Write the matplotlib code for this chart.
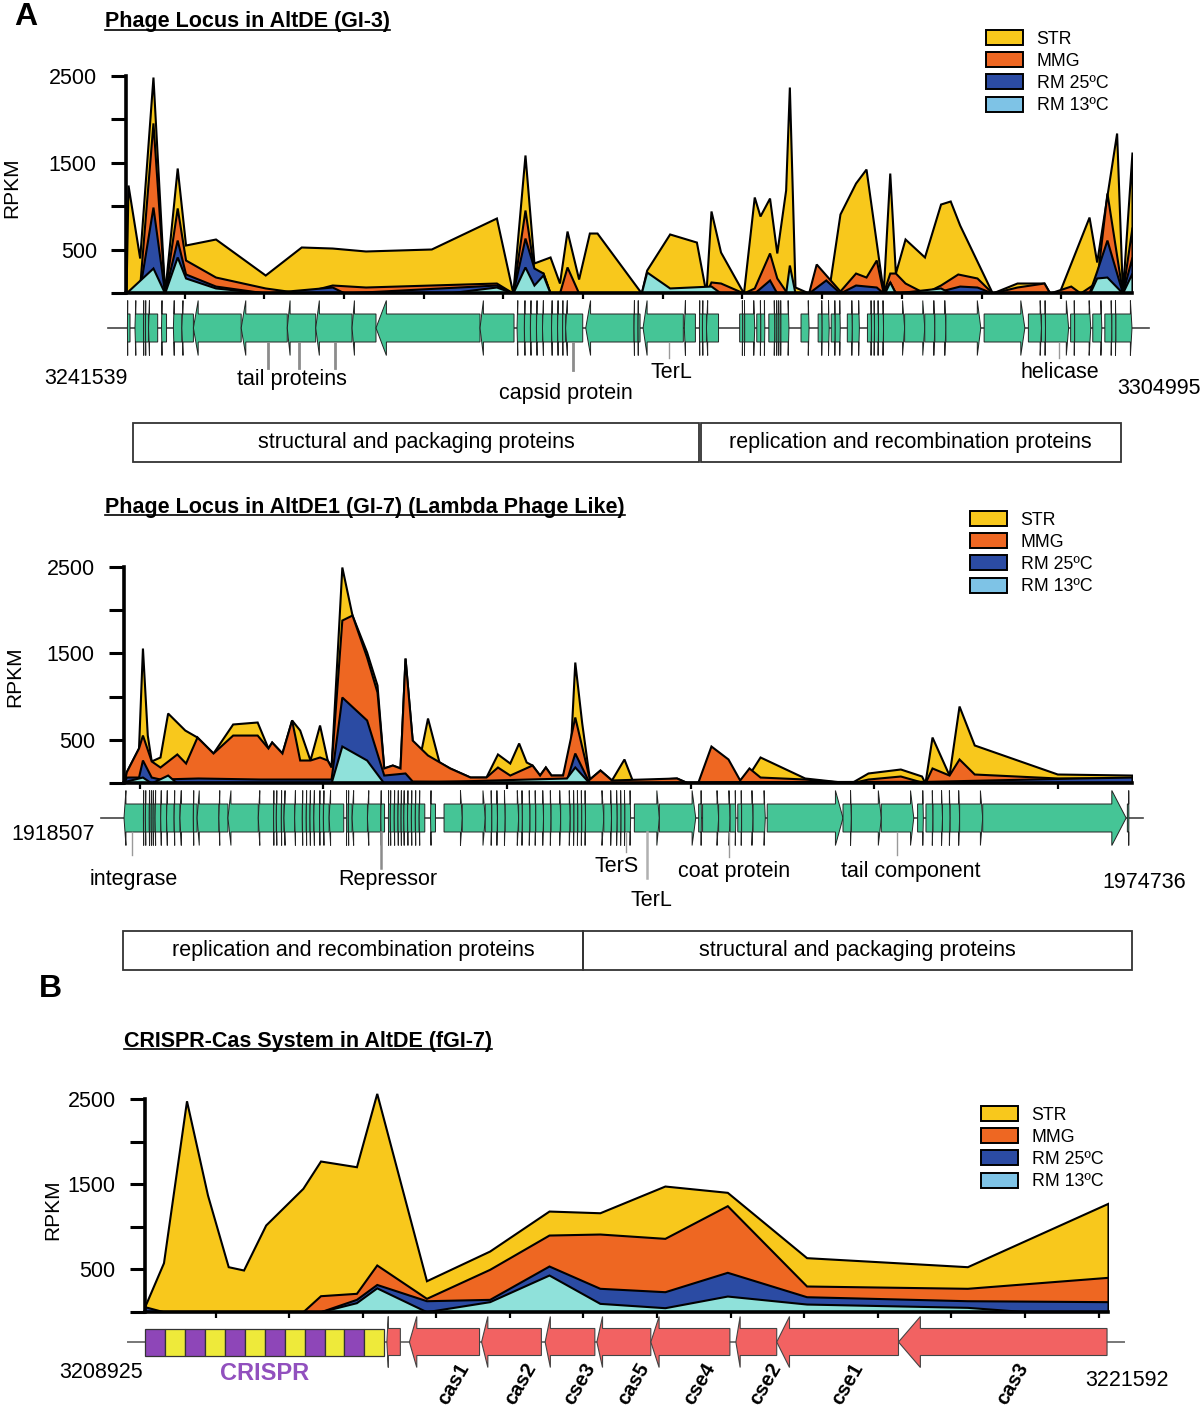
import numpy as np
import matplotlib
matplotlib.use('Agg')
import matplotlib.pyplot as plt
from matplotlib.patches import Polygon, Rectangle, Patch
from matplotlib.lines import Line2D

plt.rcParams['font.family'] = ['Liberation Sans', 'DejaVu Sans']

# colours
c_str, c_mmg, c_rm25, c_rm13 = '#F8C81C', '#EE6722', '#2B4BA3', '#8FE1DA'
c_rm13_leg = '#7EC3E6'
c_gene = '#45C596'
c_cas = '#F26262'
c_crispr = ['#8E46B8', '#EEEA3A']

series_names = ['STR', 'MMG', 'RM 25ºC', 'RM 13ºC']

# ---------------- data : x = position along locus (% of locus), y = RPKM
# Phage locus in AltDE (GI-3)
a1_str_x = [0, 0.2, 1.36, 2.68, 3.84, 5.09, 5.92, 8.90, 13.84, 17.42, 20.50, 23.81, 30.35, 36.82, 38.45,
            39.66, 40.55, 42.15, 43.09, 43.84, 44.99, 46.06, 46.82, 51.22, 51.76, 54.04, 56.70, 57.65, 58.15,
            59.10, 61.38, 62.45, 63.02, 63.97, 64.69, 65.57, 65.94, 66.50, 67.85, 69.83, 70.97, 72.52, 73.56,
            75.27, 75.92, 76.48, 77.44, 79.37, 80.97, 81.93, 82.87, 86.11, 88.57, 91.25, 91.82, 92.74, 95.73,
            96.49, 98.47, 99.05, 100]
a1_str_y = [0, 1244, 403, 2488, 0, 1440, 553, 622, 207, 530, 518, 484, 507, 864, 0,
            1590, 346, 415, 115, 714, 161, 691, 691, 0, 265, 680, 587, 0, 945,
            472, 0, 1106, 887, 1094, 461, 1187, 2373, 69, 0, 20, 910, 1267, 1428,
            10, 1382, 230, 622, 415, 1025, 1060, 783, 0, 115, 115, 0, 0, 875,
            357, 1843, 0, 1624]
a1_mmg_x = [0, 1.36, 2.68, 3.84, 5.09, 5.92, 8.90, 13.84, 17.42, 20.50, 23.81, 36.82, 38.45, 39.66, 40.55,
            41.45, 42.15, 43.09, 43.84, 44.99, 57.65, 58.15, 59.10, 61.38, 62.45, 63.97, 64.69, 65.57, 66.50,
            67.85, 68.61, 69.83, 70.97, 72.52, 73.56, 74.58, 75.27, 75.92, 76.48, 77.44, 79.37, 80.97, 82.68,
            84.59, 86.11, 88.57, 91.25, 91.82, 93.91, 94.86, 96.49, 97.51, 99.05, 100]
a1_mmg_y = [0, 80, 1960, 0, 980, 380, 184, 58, 0, 92, 69, 115, 0, 956, 265,
            230, 0, 0, 300, 0, 0, 127, 115, 0, 58, 461, 173, 23, 0,
            0, 334, 173, 23, 230, 184, 380, 0, 230, 230, 115, 0, 92, 219,
            173, 0, 69, 115, 0, 80, 0, 127, 1152, 0, 760]
a1_rm25_x = [0, 1.36, 2.68, 3.84, 5.09, 5.92, 8.90, 13.84, 20.50, 21.70, 36.82, 38.45, 39.66, 40.55, 41.45,
             42.15, 62.45, 63.97, 64.69, 67.85, 69.56, 70.97, 72.52, 74.58, 75.27, 75.92, 76.48, 80.97, 82.87,
             84.59, 86.11, 95.73, 96.49, 97.51, 99.05, 100]
a1_rm25_y = [0, 46, 990, 0, 610, 219, 80, 0, 69, 0, 92, 0, 633, 288, 230,
             0, 0, 150, 0, 0, 150, 0, 92, 69, 0, 127, 0, 23, 80,
             69, 0, 0, 253, 610, 0, 415]
a1_rm13_x = [0, 2.68, 3.84, 5.09, 5.92, 8.90, 13.84, 32.0, 36.82, 38.45, 39.66, 40.55, 41.45, 42.15, 51.22,
             51.76, 54.04, 58.15, 59.10, 65.57, 65.94, 66.50, 75.40, 75.92, 76.48, 80.97, 81.93, 95.80, 96.49,
             97.51, 99.05, 100]
a1_rm13_y = [0, 288, 0, 415, 173, 58, 0, 0, 69, 0, 300, 92, 207, 0, 0,
             242, 58, 80, 0, 0, 322, 0, 0, 127, 0, 58, 0, 0, 173,
             184, 0, 230]

# Phage locus in AltDE1 (GI-7)
a2_str_x = [0, 0.23, 1.44, 1.83, 2.31, 2.70, 3.57, 4.33, 6.03, 7.24, 8.83, 10.78, 13.21, 14.28, 14.65,
            15.67, 16.63, 17.43, 18.45, 19.40, 20.16, 20.54, 21.61, 22.62, 24.07, 25.10, 25.77, 26.62, 27.38,
            27.88, 28.59, 29.27, 30.11, 31.25, 32.31, 34.33, 35.91, 37.05, 38.27, 39.15, 39.90, 40.48, 41.23,
            41.80, 42.36, 43.51, 44.25, 44.72, 45.41, 46.17, 47.22, 48.36, 49.60, 50.45, 54.81, 55.95, 56.90,
            58.23, 61.08, 62.00, 63.10, 67.53, 72.09, 73.81, 77.02, 79.12, 79.46, 80.16, 81.85, 82.84, 84.35,
            92.59, 100]
a2_str_y = [0, 131, 405, 1562, 555, 255, 301, 810, 613, 532, 347, 683, 706, 405, 474,
            347, 729, 613, 266, 671, 266, 185, 2500, 1944, 1516, 1134, 174, 208, 174,
            1446, 497, 266, 752, 243, 174, 69, 69, 336, 231, 463, 243, 208, 92,
            185, 92, 92, 324, 1400, 694, 46, 150, 35, 278, 23, 58, 0, 0,
            50, 35, 100, 301, 58, 0, 116, 162, 81, 0, 532, 92, 891, 440,
            104, 92]
a2_mmg_x = [0, 0.23, 1.44, 1.83, 2.70, 3.57, 5.24, 6.11, 7.24, 8.83, 10.78, 13.21, 14.28, 14.65, 15.67,
            16.63, 17.43, 18.45, 19.40, 20.16, 20.54, 21.61, 22.62, 24.07, 25.10, 25.77, 26.62, 27.38, 27.88,
            28.59, 30.11, 32.31, 34.33, 35.91, 37.05, 38.27, 40.48, 41.23, 41.80, 42.36, 43.51, 44.72, 46.17,
            47.22, 48.36, 54.81, 55.95, 56.90, 58.23, 59.92, 61.08, 62.00, 63.10, 67.53, 72.09, 73.81, 77.02,
            79.46, 80.16, 81.85, 82.84, 84.35, 92.59, 100]
a2_mmg_y = [0, 131, 405, 555, 255, 185, 336, 231, 532, 347, 555, 555, 405, 474, 347,
            729, 266, 266, 301, 266, 185, 1886, 1944, 1458, 1053, 174, 208, 174, 1446,
            497, 324, 174, 69, 69, 185, 92, 208, 92, 185, 92, 92, 764, 46,
            150, 35, 58, 0, 0, 428, 278, 35, 174, 69, 46, 0, 46, 81,
            0, 174, 92, 278, 104, 58, 58]
a2_rm25_x = [0, 0.23, 1.44, 1.83, 2.70, 3.57, 7.34, 13.49, 20.54, 21.61, 24.07, 25.77, 27.88, 28.59, 35.0,
             43.89, 44.72, 46.17, 60.0, 80.0, 94.68, 100]
a2_rm25_y = [0, 69, 69, 266, 69, 46, 58, 46, 46, 995, 729, 92, 116, 23, 20,
             30, 347, 0, 15, 20, 58, 69]
a2_rm13_x = [0, 0.23, 1.83, 2.70, 4.33, 5.24, 20.54, 21.61, 24.07, 25.77, 43.89, 44.72, 46.17, 100]
a2_rm13_y = [0, 23, 69, 0, 92, 0, 0, 428, 266, 0, 58, 185, 0, 0]

# CRISPR-Cas system in AltDE (fGI-7)
b_str_x = [0, 1.95, 4.34, 6.52, 8.67, 10.26, 12.56, 16.42, 18.25, 21.98, 24.09, 29.25, 35.81, 41.97, 47.25,
           54.0, 60.48, 68.71, 85.40, 100]
b_str_y = [60, 576, 2479, 1371, 529, 490, 1019, 1450, 1771, 1704, 2566, 364, 713, 1183, 1163,
           1477, 1403, 635, 529, 1274]
b_mmg_x = [0, 16.42, 18.25, 21.98, 24.09, 29.25, 35.81, 41.97, 47.25, 54.0, 60.48, 68.71, 85.40, 100]
b_mmg_y = [0, 0, 188, 216, 549, 157, 498, 901, 913, 862, 1246, 302, 275, 404]
b_rm25_x = [0, 1.95, 18.25, 21.98, 24.09, 29.25, 35.81, 41.97, 47.25, 54.0, 60.48, 68.71, 85.40, 100]
b_rm25_y = [59, 0, 0, 145, 320, 129, 145, 537, 275, 235, 463, 176, 129, 118]
b_rm13_x = [0, 18.25, 21.98, 24.09, 29.25, 35.81, 41.97, 47.25, 54.0, 60.48, 68.71, 85.40, 91.5, 100]
b_rm13_y = [0, 0, 106, 280, 0, 118, 431, 98, 47, 184, 90, 51, 0, 0]

# genes: runs of adjacent gene boundaries (% of locus) and strand
a1_genes = [([0.14, 0.40], -1), ([0.89, 1.74, 1.93, 2.24, 3.15], -1), ([3.53, 4.03], -1),
            ([4.71, 5.55, 6.70, 11.45, 16.03, 18.86, 22.47, 24.85, 35.19, 38.57], -1),
            ([38.87, 39.6, 40.2, 40.8, 41.4, 42.3, 42.9, 43.4, 43.7, 45.4], -1),
            ([45.7, 50.5, 50.9, 51.1], -1), ([51.4, 55.4], -1), ([55.5, 56.6], -1),
            ([57.0, 57.3, 57.7, 58.9], -1),
            ([61.0, 61.3, 61.5, 62.5], 1), ([62.7, 63.1, 63.5], 1), ([63.9, 64.5, 64.7, 64.9, 65.1, 65.9], 1),
            ([67.1, 67.9], 1), ([68.8, 69.2, 69.9], 1), ([70.1, 70.5, 71.0], 1), ([71.7, 72.2, 72.9], 1),
            ([73.7, 74.1, 74.4, 74.8, 75.3, 77.4, 79.4, 80.4, 81.5, 84.97], 1), ([85.3, 89.35], 1),
            ([89.7, 91.0, 91.4, 93.7], 1), ([93.9, 94.3, 95.9], 1), ([96.1, 97.0], 1),
            ([97.3, 98.0, 98.4, 100.0], 1)]
a2_genes = [([0.0, 1.93, 2.12, 2.51, 2.70, 2.89, 3.08, 3.64, 4.22, 4.97, 5.55, 6.88, 7.25, 9.41, 10.31,
              13.32, 14.84, 15.11, 15.61, 15.87, 16.93, 17.69, 18.08, 18.45, 18.83, 19.40, 19.78, 20.35,
              21.80], -1),
            ([22.06, 22.25, 22.63, 24.15, 25.48, 25.85], -1),
            ([26.23, 26.42, 26.81, 27.18, 27.49, 27.76, 28.13, 28.51, 28.90, 29.28, 29.84], -1),
            ([30.41, 30.90], -1),
            ([31.75, 33.56, 35.84, 36.49, 37.05, 37.82, 39.15, 39.52, 40.28, 40.85, 41.62, 42.37, 43.32,
              44.27, 44.64, 45.02, 45.41, 45.78, 47.60, 48.36, 48.93, 49.31, 49.69, 50.26], 1),
            ([50.63, 53.11, 56.72], 1), ([57.01, 57.28], 1), ([57.40, 58.99, 60.13, 60.70], 1),
            ([60.89, 61.27, 62.41, 63.62], 1), ([63.81, 71.33, 72.16, 75.13, 78.35], 1),
            ([78.73, 79.30], 1), ([79.56, 80.26, 81.20, 81.96, 82.90, 85.19, 99.42], 1),
            ([99.54, 99.69], 1)]
b_gene_start = [25.14, 27.48, 34.97, 41.57, 46.94, 52.54, 61.37, 65.61, 78.25]
b_gene_end = [26.54, 34.76, 41.18, 46.73, 52.54, 60.75, 65.61, 78.25, 99.9]
b_gene_names = ['', 'cas1', 'cas2', 'cse3', 'cas5', 'cse4', 'cse2', 'cse1', 'cas3']
crispr_start, crispr_end, crispr_units = 0.07, 24.87, 12

W, H = 1200, 1407
fig = plt.figure(figsize=(W / 100., H / 100.), dpi=100)


def px_rect(l, t, r, b):
    return [l / W, 1 - b / H, (r - l) / W, (b - t) / H]


def make_chart(l, r, y0, y2500, series, xticks, leg_xy):
    top = y0 - 2650. * (y0 - y2500) / 2500.
    ax = fig.add_axes(px_rect(l, top, r, y0))
    ax.patch.set_visible(False)
    for (x, y), fc in zip(series, [c_str, c_mmg, c_rm25, c_rm13]):
        ax.fill_between(x, 0, y, facecolor=fc, edgecolor='k', lw=1.5, joinstyle='miter')
    ax.set_xlim(0, 100)
    ax.set_ylim(0, 2650)
    for s in ['top', 'right']:
        ax.spines[s].set_visible(False)
    ax.spines['left'].set_bounds(0, 2500)
    ax.spines['left'].set_linewidth(2.6)
    ax.spines['bottom'].set_linewidth(2.6)
    ax.set_yticks([0, 500, 1000, 1500, 2000, 2500])
    ax.set_yticklabels(['', '500', '', '1500', '', '2500'])
    ax.set_xticks(xticks)
    ax.tick_params(axis='y', length=11, width=2.2, pad=10, labelsize=15.5)
    ax.tick_params(axis='x', length=4, width=1.6, labelbottom=False)
    ax.set_ylabel('RPKM', fontsize=15, va='center')
    # legend
    handles = [Patch(facecolor=c, edgecolor='k', lw=1.4) for c in [c_str, c_mmg, c_rm25, c_rm13_leg]]
    ax.legend(handles, series_names, loc='upper left', bbox_to_anchor=(leg_xy[0] / W, 1 - leg_xy[1] / H),
              bbox_transform=fig.transFigure, frameon=False, fontsize=12.8, handlelength=2.1,
              handleheight=0.92, labelspacing=0.26, handletextpad=0.75, borderpad=0, borderaxespad=0)
    return ax


def make_overlay(l, r):
    ax = fig.add_axes([0, 0, 1, 1])
    s = (r - l) / 100.
    ax.set_xlim(-l / s, (W - l) / s)
    ax.set_ylim(H, 0)
    ax.set_axis_off()
    ax.patch.set_visible(False)
    return ax


def gene(ax, s, e, strand, yc, bh, hh, hl, fc, ec, lw=0.7):
    hl = min(hl, e - s)
    if strand > 0:
        xs = [s, e - hl, e - hl, e, e - hl, e - hl, s]
    else:
        xs = [e, s + hl, s + hl, s, s + hl, s + hl, e]
    ys = [yc - bh / 2, yc - bh / 2, yc - hh / 2, yc, yc + hh / 2, yc + bh / 2, yc + bh / 2]
    ax.add_patch(Polygon(list(zip(xs, ys)), closed=True, facecolor=fc, edgecolor=ec, lw=lw))


def gene_track(ax, blocks, yc, x0, x1):
    ax.plot([x0, x1], [yc, yc], color='#444444', lw=1.2, zorder=0)
    for bounds, strand in blocks:
        for s, e in zip(bounds[:-1], bounds[1:]):
            gene(ax, s, e, strand, yc, 28, 55, min(0.1 * (e - s), 1.5), c_gene, '#222222')


def leader(ax, x, y0, y1, lw=2.0, color='#8c8c8c'):
    ax.plot([x, x], [y0, y1], color=color, lw=lw)


def box(ax, x0, x1, y0, y1, label):
    ax.add_patch(Rectangle((x0, y0), x1 - x0, y1 - y0, fill=False, edgecolor='#333333', lw=1.3))
    ax.text((x0 + x1) / 2, (y0 + y1) / 2, label, ha='center', va='center', fontsize=15.5)


lab = dict(fontsize=15.5, ha='center', va='center')

# ---------------- panel A, GI-3
make_chart(126, 1132, 293, 76,
           [(a1_str_x, a1_str_y), (a1_mmg_x, a1_mmg_y), (a1_rm25_x, a1_rm25_y), (a1_rm13_x, a1_rm13_y)],
           np.arange(5.84, 100, 7.92), (986, 30)).yaxis.set_label_coords(-0.114, 0.46)
ov = make_overlay(126, 1132)
gene_track(ov, a1_genes, 328, -1.8, 101.7)
for x in [14.1, 17.2, 20.8]:
    leader(ov, x, 343, 368)
leader(ov, 44.4, 343, 370)
leader(ov, 54.0, 343, 358, lw=1.0, color='#9a9a9a')
leader(ov, 92.7, 343, 358, lw=1.0, color='#9a9a9a')
ov.text(16.5, 379, 'tail proteins', **lab)
ov.text(43.7, 393, 'capsid protein', **lab)
ov.text(54.2, 372, 'TerL', **lab)
ov.text(92.8, 372, 'helicase', **lab)
ov.text(0.2, 378, '3241539', fontsize=15.5, ha='right', va='center')
ov.text(98.5, 389, '3304995', fontsize=15.5, ha='left', va='center')
box(ov, 0.70, 56.93, 423, 462, 'structural and packaging proteins')
box(ov, 57.12, 98.86, 423, 462, 'replication and recombination proteins')

# ---------------- panel A, GI-7
make_chart(124, 1132, 783, 567,
           [(a2_str_x, a2_str_y), (a2_mmg_x, a2_mmg_y), (a2_rm25_x, a2_rm25_y), (a2_rm13_x, a2_rm13_y)],
           np.arange(1.56, 100, 18.22), (970, 511)).yaxis.set_label_coords(-0.108, 0.463)
ov = make_overlay(124, 1132)
gene_track(ov, a2_genes, 818, -2.3, 101.1)
leader(ov, 0.79, 832, 855, lw=1.0, color='#9a9a9a')
leader(ov, 25.48, 832, 868, lw=1.8)
leader(ov, 49.8, 832, 852, lw=1.0, color='#9a9a9a')
leader(ov, 51.86, 832, 878, lw=1.8, color='#b0b0b0')
leader(ov, 60.02, 832, 857, lw=1.0, color='#9a9a9a')
leader(ov, 76.65, 832, 855, lw=1.0, color='#9a9a9a')
ov.text(0.99, 879, 'integrase', **lab)
ov.text(26.19, 880, 'Repressor', **lab)
ov.text(48.9, 867, 'TerS', **lab)
ov.text(52.28, 901, 'TerL', **lab)
ov.text(60.52, 871, 'coat protein', **lab)
ov.text(78.08, 872, 'tail component', **lab)
ov.text(-2.88, 834, '1918507', fontsize=15.5, ha='right', va='center')
ov.text(101.2, 882, '1974736', **lab)
box(ov, -0.08, 45.49, 931, 970, 'replication and recombination proteins')
box(ov, 45.49, 100.0, 931, 970, 'structural and packaging proteins')

# ---------------- panel B, CRISPR-Cas
make_chart(144.7, 1108, 1311.7, 1099,
           [(b_str_x, b_str_y), (b_mmg_x, b_mmg_y), (b_rm25_x, b_rm25_y), (b_rm13_x, b_rm13_y)],
           np.arange(7.35, 100, 7.64), (981, 1106)).yaxis.set_label_coords(-0.095, 0.451)
ov = make_overlay(144.7, 1108)
yc = 1342
ov.plot([-1.76, 101.7], [yc, yc], color='#777777', lw=1.4, zorder=0)
uw = (crispr_end - crispr_start) / crispr_units
for i in range(crispr_units):
    ov.add_patch(Rectangle((crispr_start + i * uw, yc - 13.5), uw, 27, facecolor=c_crispr[i % 2],
                           edgecolor='#333333', lw=0.9))
for s, e, name in zip(b_gene_start, b_gene_end, b_gene_names):
    gene(ov, s, e, -1, yc, 27, 51, 0.105 * (e - s), c_cas, '#444444', lw=0.8)
    if name:
        ov.text((s + e) / 2 + 1.0, 1384, name, fontsize=14.5, fontweight='bold', rotation=60,
                ha='center', va='center', rotation_mode='anchor')
ov.text((crispr_start + crispr_end) / 2, 1373, 'CRISPR', fontsize=17, fontweight='bold',
        color='#9150BE', ha='center', va='center')
ov.text(-0.2, 1373, '3208925', fontsize=15.5, ha='right', va='center')
ov.text(97.6, 1381, '3221592', fontsize=15.5, ha='left', va='center')

# ---------------- titles and panel letters
fig.text(14 / W, 1 - 17 / H, 'A', fontsize=23, fontweight='bold', va='center')
fig.text(39 / W, 1 - 989 / H, 'B', fontsize=23, fontweight='bold', va='center')
titles = [fig.text(105 / W, 1 - 22 / H, 'Phage Locus in AltDE (GI-3)', fontsize=15.5, fontweight='bold', va='center'),
          fig.text(105 / W, 1 - 507 / H, 'Phage Locus in AltDE1 (GI-7) (Lambda Phage Like)', fontsize=15.5,
                   fontweight='bold', va='center'),
          fig.text(124 / W, 1 - 1041 / H, 'CRISPR-Cas System in AltDE (fGI-7)', fontsize=15.5,
                   fontweight='bold', va='center')]
fig.canvas.draw()
for t in titles:
    bb = t.get_window_extent().transformed(fig.transFigure.inverted())
    yl = bb.y0 + 2.5 / H
    fig.add_artist(Line2D([bb.x0, bb.x1], [yl, yl], transform=fig.transFigure, color='k', lw=1.2))

fig.savefig('out.png', dpi=100)
